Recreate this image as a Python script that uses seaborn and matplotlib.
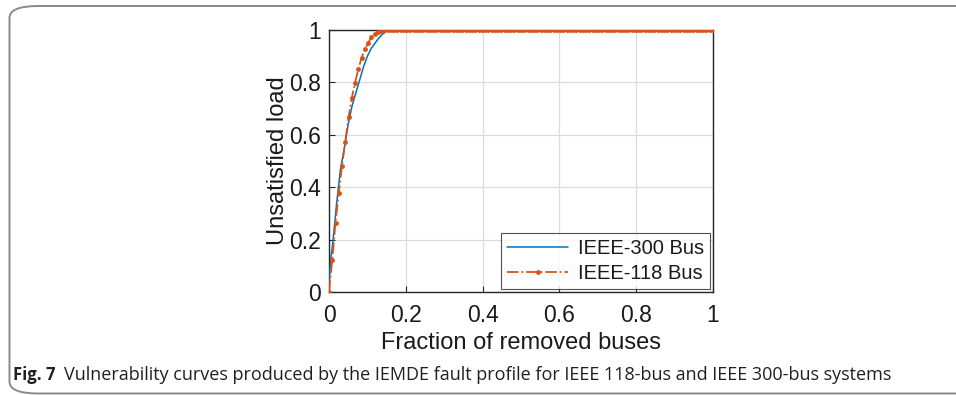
import numpy as np
import pandas as pd
import matplotlib
matplotlib.use("Agg")
import matplotlib.pyplot as plt
from matplotlib.patches import FancyBboxPatch
import seaborn as sns

# ---- data ----
# IEEE-118: one point per removed bus (k/118)
y118_rise = [0.0, 0.122, 0.265, 0.379, 0.482, 0.574, 0.667, 0.740, 0.799,
             0.850, 0.894, 0.926, 0.950, 0.972, 0.985, 0.993, 0.998, 1.0]
y118 = y118_rise + [1.0] * (119 - len(y118_rise))
x118 = np.arange(len(y118)) / 118.0

# IEEE-300: smooth curve
x300 = [0.0, 0.002, 0.005, 0.01, 0.02, 0.03, 0.04, 0.05, 0.06, 0.07, 0.08,
        0.09, 0.10, 0.11, 0.12, 0.13, 0.14, 0.15, 0.16, 1.0]
y300 = [0.0, 0.08, 0.13, 0.19, 0.34, 0.47, 0.55, 0.64, 0.71, 0.76, 0.81,
        0.86, 0.90, 0.93, 0.95, 0.97, 0.985, 0.995, 1.0, 1.0]

xticks = [0, 0.2, 0.4, 0.6, 0.8, 1]
xtick_labels = ["0", "0.2", "0.4", "0.6", "0.8", "1"]
yticks = [0, 0.2, 0.4, 0.6, 0.8, 1]
ytick_labels = ["0", "0.2", "0.4", "0.6", "0.8", "1"]

blue = "#0072BD"
orange = "#D95319"

sns.set_style("white")
plt.rcParams["font.family"] = ["Liberation Sans", "DejaVu Sans"]
cap_font = ["Open Sans", "DejaVu Sans"]

W, H = 956, 395
fig = plt.figure(figsize=(W / 100, H / 100), dpi=100)
ax = fig.add_axes([329 / W, 1 - 292 / H, (713 - 329) / W, (292 - 30) / H])

df300 = pd.DataFrame({"x": x300, "y": y300})
df118 = pd.DataFrame({"x": x118, "y": y118})

sns.lineplot(data=df300, x="x", y="y", ax=ax, color=blue, linewidth=1.1,
             label="IEEE-300 Bus", estimator=None, sort=False, zorder=3)
sns.lineplot(data=df118, x="x", y="y", ax=ax, color=orange, linewidth=1.3,
             linestyle="-.", marker=".", markersize=7, markeredgewidth=0,
             label="IEEE-118 Bus", estimator=None, sort=False, zorder=4)

ax.set_xlim(0, 1)
ax.set_ylim(0, 1)
ax.set_xticks(xticks)
ax.set_xticklabels(xtick_labels)
ax.set_yticks(yticks)
ax.set_yticklabels(ytick_labels)
ax.grid(True, color="#dcdcdc", linewidth=0.9)
ax.set_axisbelow(True)
for s in ax.spines.values():
    s.set_visible(True)
    s.set_color("#262626")
    s.set_linewidth(1.0)
ax.tick_params(direction="in", length=4, width=0.8, color="#262626",
               labelsize=16.5, labelcolor="#1a1a1a", pad=6,
               top=False, right=False, bottom=True, left=True)
ax.tick_params(axis="x", pad=9)
ax.set_xlabel("Fraction of removed buses", fontsize=17, color="#1a1a1a", labelpad=3)
ax.set_ylabel("Unsatisfied load", fontsize=17, color="#1a1a1a", labelpad=0)

leg = ax.legend(loc="lower right", fontsize=14.5, frameon=True, fancybox=False,
                handlelength=3.0, borderpad=0.3, labelspacing=0.3,
                borderaxespad=0.15, handletextpad=0.5)
leg.get_frame().set_edgecolor("#262626")
leg.get_frame().set_linewidth(0.8)
for t in leg.get_texts():
    t.set_color("#1a1a1a")

# outer rounded border (only top and left visible)
box = FancyBboxPatch((9.5 / W, 1.5 / H), 1.2, (H - 6 - 1.5) / H,
                     boxstyle="round,pad=0,rounding_size=0.03",
                     transform=fig.transFigure, fill=False,
                     edgecolor="#8a8a8a", linewidth=1.4, clip_on=False)
fig.patches.append(box)

# caption
fig.text(13 / W, 1 - 375 / H, "Fig. 7", fontsize=12, fontweight="bold",
         family=cap_font, va="center", ha="left", color="#231f20")
fig.text(64 / W, 1 - 375 / H,
         "Vulnerability curves produced by the IEMDE fault profile for IEEE 118-bus and IEEE 300-bus systems",
         fontsize=13.0, family=cap_font, va="center", ha="left",
         color="#231f20")

fig.savefig("out.png", dpi=100)
